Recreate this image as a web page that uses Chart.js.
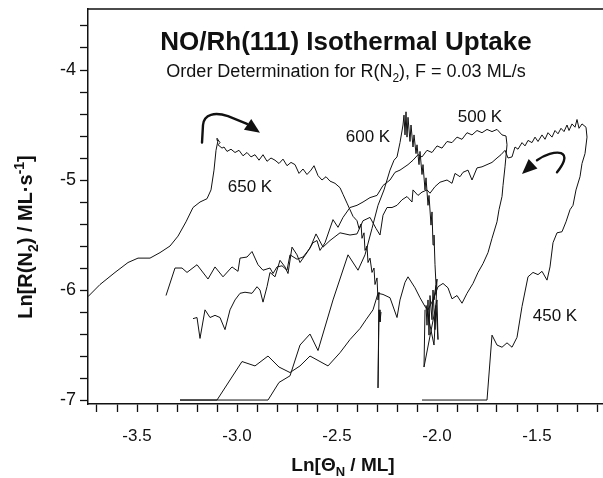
<!DOCTYPE html>
<html><head><meta charset="utf-8">
<script src="https://cdn.jsdelivr.net/npm/chart.js@4/dist/chart.umd.min.js"></script>
<style>html,body{margin:0;padding:0;overflow:hidden;background:#fff}#wrap{width:620px;height:478px}</style>
</head><body><div id="wrap"><canvas id="c" width="620" height="478"></canvas></div>
<script>
// ---- data: [ln(theta_N), ln(R(N2))] pairs ----
const k650 = [[-3.745,-6.06],[-3.685,-5.95],[-3.61,-5.84],[-3.545,-5.75],[-3.495,-5.71],[-3.435,-5.71],[-3.385,-5.66],[-3.335,-5.60],[-3.295,-5.51],[-3.255,-5.38],[-3.22,-5.25],[-3.185,-5.20],[-3.15,-5.17],[-3.13,-5.09],[-3.115,-4.91],[-3.105,-4.73],[-3.095,-4.64],[-3.10,-4.62],[-3.085,-4.66],[-3.095,-4.68],[-3.075,-4.71],[-3.065,-4.70],[-3.05,-4.74],[-3.03,-4.72],[-3.01,-4.75],[-2.99,-4.73],[-2.97,-4.78],[-2.95,-4.75],[-2.93,-4.79],[-2.91,-4.77],[-2.89,-4.82],[-2.87,-4.77],[-2.85,-4.83],[-2.83,-4.80],[-2.81,-4.82],[-2.79,-4.85],[-2.77,-4.81],[-2.75,-4.87],[-2.73,-4.84],[-2.71,-4.86],[-2.69,-4.94],[-2.67,-4.90],[-2.65,-4.95],[-2.63,-4.91],[-2.615,-4.87],[-2.595,-4.96],[-2.575,-5.00],[-2.555,-4.97],[-2.535,-5.01],[-2.51,-5.03],[-2.485,-5.07],[-2.47,-5.13],[-2.45,-5.21],[-2.435,-5.27],[-2.42,-5.33],[-2.40,-5.37],[-2.39,-5.44],[-2.38,-5.40],[-2.375,-5.53],[-2.365,-5.48],[-2.36,-5.64],[-2.35,-5.60],[-2.345,-5.75],[-2.335,-5.71],[-2.325,-5.84],[-2.315,-5.80],[-2.31,-5.95],[-2.30,-5.89],[-2.295,-6.09],[-2.29,-6.02],[-2.295,-6.89],[-2.29,-6.18],[-2.285,-6.29],[-2.28,-6.20]];
const k600 = [[-3.285,-7.0],[-2.845,-7.0],[-2.79,-6.84],[-2.735,-6.78],[-2.685,-6.50],[-2.635,-6.40],[-2.595,-6.55],[-2.52,-6.09],[-2.445,-5.68],[-2.395,-5.82],[-2.36,-5.68],[-2.325,-5.44],[-2.295,-5.23],[-2.265,-5.09],[-2.235,-4.91],[-2.215,-4.82],[-2.20,-4.79],[-2.185,-4.66],[-2.17,-4.50],[-2.165,-4.41],[-2.16,-4.59],[-2.155,-4.38],[-2.15,-4.61],[-2.145,-4.43],[-2.135,-4.65],[-2.13,-4.50],[-2.12,-4.70],[-2.115,-4.59],[-2.105,-4.76],[-2.10,-4.68],[-2.09,-4.86],[-2.085,-4.74],[-2.075,-4.95],[-2.07,-4.86],[-2.06,-5.09],[-2.055,-4.98],[-2.045,-5.23],[-2.04,-5.14],[-2.03,-5.41],[-2.025,-5.29],[-2.02,-5.59],[-2.015,-5.50],[-2.01,-5.77],[-2.005,-5.95],[-2.015,-6.09],[-2.00,-5.90],[-2.01,-6.36],[-2.02,-6.00],[-2.025,-6.27],[-2.035,-6.05],[-2.04,-6.41],[-2.045,-6.09],[-2.05,-6.32],[-2.055,-6.14],[-2.015,-6.50],[-2.005,-6.14],[-1.995,-6.45],[-2.00,-6.09],[-2.065,-6.70],[-2.06,-6.18]];
const k500 = [[-3.22,-6.26],[-3.20,-6.25],[-3.185,-6.44],[-3.16,-6.18],[-3.135,-6.25],[-3.11,-6.23],[-3.085,-6.25],[-3.06,-6.36],[-3.035,-6.18],[-3.01,-6.09],[-2.985,-6.03],[-2.96,-6.02],[-2.925,-6.03],[-2.90,-5.97],[-2.885,-6.00],[-2.87,-6.11],[-2.85,-5.97],[-2.835,-5.84],[-2.81,-5.88],[-2.785,-5.73],[-2.76,-5.79],[-2.745,-5.85],[-2.725,-5.61],[-2.70,-5.68],[-2.685,-5.75],[-2.65,-5.66],[-2.62,-5.57],[-2.60,-5.55],[-2.585,-5.64],[-2.56,-5.57],[-2.52,-5.36],[-2.495,-5.43],[-2.47,-5.34],[-2.435,-5.25],[-2.40,-5.23],[-2.37,-5.20],[-2.335,-5.16],[-2.30,-5.14],[-2.27,-5.05],[-2.235,-5.00],[-2.21,-4.93],[-2.185,-4.91],[-2.145,-4.86],[-2.12,-4.82],[-2.095,-4.77],[-2.075,-4.79],[-2.05,-4.73],[-2.025,-4.75],[-2.00,-4.69],[-1.975,-4.71],[-1.95,-4.65],[-1.925,-4.66],[-1.90,-4.61],[-1.875,-4.63],[-1.85,-4.57],[-1.825,-4.59],[-1.80,-4.55],[-1.775,-4.57],[-1.75,-4.54],[-1.725,-4.56],[-1.70,-4.54],[-1.675,-4.59],[-1.655,-4.60],[-1.65,-4.68],[-1.66,-4.88],[-1.67,-5.05],[-1.675,-5.15],[-1.69,-5.27],[-1.70,-5.38],[-1.725,-5.53],[-1.745,-5.66],[-1.77,-5.76],[-1.795,-5.84],[-1.82,-5.94],[-1.85,-6.03],[-1.875,-6.12],[-1.90,-6.05],[-1.925,-6.08],[-1.945,-5.98],[-1.97,-5.94],[-1.995,-5.97],[-2.02,-6.09],[-2.045,-6.18],[-2.06,-6.15],[-2.085,-6.07],[-2.11,-5.98],[-2.145,-5.88],[-2.16,-5.93],[-2.185,-6.09],[-2.20,-6.25],[-2.235,-6.07],[-2.27,-6.04],[-2.295,-6.03],[-2.32,-6.18],[-2.355,-6.27],[-2.385,-6.35],[-2.435,-6.45],[-2.485,-6.57],[-2.545,-6.69],[-2.595,-6.64],[-2.635,-6.60],[-2.685,-6.69],[-2.735,-6.75],[-2.79,-6.70],[-2.845,-6.60],[-2.91,-6.69],[-2.975,-6.65],[-3.10,-7.0],[-3.285,-7.0]];
const k450 = [[-2.075,-7.0],[-1.75,-7.0],[-1.725,-6.41],[-1.70,-6.50],[-1.675,-6.52],[-1.65,-6.48],[-1.625,-6.52],[-1.60,-6.43],[-1.575,-6.15],[-1.545,-5.88],[-1.52,-5.84],[-1.495,-5.86],[-1.475,-5.83],[-1.45,-5.91],[-1.435,-5.79],[-1.42,-5.57],[-1.40,-5.48],[-1.375,-5.47],[-1.355,-5.38],[-1.335,-5.27],[-1.32,-5.23],[-1.305,-5.09],[-1.285,-4.97],[-1.275,-4.85],[-1.26,-4.76],[-1.25,-4.61],[-1.255,-4.52],[-1.275,-4.49],[-1.29,-4.53],[-1.30,-4.45],[-1.31,-4.52],[-1.325,-4.49],[-1.34,-4.55],[-1.35,-4.50],[-1.365,-4.56],[-1.38,-4.53],[-1.395,-4.58],[-1.41,-4.55],[-1.425,-4.61],[-1.445,-4.57],[-1.46,-4.63],[-1.475,-4.59],[-1.495,-4.65],[-1.51,-4.61],[-1.525,-4.66],[-1.545,-4.64],[-1.56,-4.69],[-1.575,-4.66],[-1.595,-4.72],[-1.61,-4.70],[-1.625,-4.79],[-1.645,-4.80],[-1.66,-4.73],[-1.68,-4.77],[-1.70,-4.80],[-1.725,-4.84],[-1.75,-4.86],[-1.775,-4.88],[-1.80,-4.89],[-1.825,-5.00],[-1.845,-4.91],[-1.87,-4.93],[-1.885,-4.97],[-1.91,-4.94],[-1.925,-5.03],[-1.95,-5.00],[-1.985,-5.02],[-2.01,-5.06],[-2.035,-5.12],[-2.05,-5.09],[-2.075,-5.11],[-2.095,-5.14],[-2.12,-5.09],[-2.125,-5.20],[-2.15,-5.15],[-2.175,-5.18],[-2.20,-5.23],[-2.225,-5.25],[-2.25,-5.25],[-2.27,-5.32],[-2.285,-5.50],[-2.305,-5.44],[-2.335,-5.34],[-2.37,-5.37],[-2.40,-5.49],[-2.435,-5.50],[-2.485,-5.48],[-2.535,-5.55],[-2.57,-5.61],[-2.605,-5.49],[-2.635,-5.62],[-2.67,-5.70],[-2.70,-5.72],[-2.735,-5.68],[-2.75,-5.82],[-2.775,-5.78],[-2.80,-5.79],[-2.82,-5.85],[-2.835,-5.80],[-2.87,-5.82],[-2.895,-5.77],[-2.925,-5.65],[-2.95,-5.70],[-2.985,-5.71],[-2.995,-5.83],[-3.025,-5.79],[-3.07,-5.88],[-3.11,-5.79],[-3.145,-5.90],[-3.20,-5.77],[-3.25,-5.84],[-3.275,-5.80],[-3.31,-5.80],[-3.355,-6.05]];
const seriesNames = ['650 K','600 K','500 K','450 K'];
const seriesData = [k650, k600, k500, k450];
// label anchors (data units) for the temperature annotations
const labelPos = [[-2.935,-5.07],[-2.345,-4.61],[-1.785,-4.43],[-1.41,-6.24]];
const xTickLabels = [-3.5,-3.0,-2.5,-2.0,-1.5];
const yTickLabels = [-7,-6,-5,-4];
const xMinorTicks = [-3.7,-3.6,-3.5,-3.4,-3.3,-3.2,-3.1,-3.0,-2.9,-2.8,-2.7,-2.6,-2.5,-2.4,-2.3,-2.2,-2.1,-2.0,-1.9,-1.8,-1.7,-1.6,-1.5,-1.4,-1.3,-1.2];
const yMinorTicks = [-7.0,-6.8,-6.6,-6.4,-6.2,-6.0,-5.8,-5.6,-5.4,-5.2,-5.0,-4.8,-4.6,-4.4,-4.2,-4.0,-3.8,-3.6];

const FONT = '"Liberation Sans", Arial, Helvetica, sans-serif';
const INK = '#111';

function drawRich(ctx, parts, x, y, size, bold, align){
  const f = m => (bold?'bold ':'') + (m ? Math.round(size*0.68) : size) + 'px ' + FONT;
  let w = 0;
  for (const [t,m] of parts){ ctx.font = f(m); w += ctx.measureText(t).width; }
  let cx = align === 'center' ? x - w/2 : x;
  ctx.textAlign = 'left'; ctx.textBaseline = 'alphabetic';
  for (const [t,m] of parts){
    ctx.font = f(m);
    const dy = m === 'sub' ? size*0.28 : (m === 'sup' ? -size*0.40 : 0);
    ctx.fillText(t, cx, y + dy);
    cx += ctx.measureText(t).width;
  }
}

const decor = {
  id: 'decor',
  afterDraw(chart){
    const ctx = chart.ctx, a = chart.chartArea;
    const xs = chart.scales.x, ys = chart.scales.y;
    const P = (x,y) => [xs.getPixelForValue(x), ys.getPixelForValue(y)];
    ctx.save();
    ctx.fillStyle = INK; ctx.strokeStyle = INK;
    ctx.lineWidth = 1.5;
    ctx.beginPath(); ctx.moveTo(a.left, a.top); ctx.lineTo(a.right, a.top); ctx.lineTo(a.right, a.bottom); ctx.stroke();
    drawRich(ctx, [['NO/Rh(111) Isothermal Uptake','']], 346, 50, 26, true, 'center');
    drawRich(ctx, [['Order Determination for R(N',''],['2','sub'],['), F = 0.03 ML/s','']], 346, 77, 18, false, 'center');
    drawRich(ctx, [['Ln[\u0398',''],['N','sub'],[' / ML]','']], 343, 471, 19, true, 'center');
    ctx.save(); ctx.translate(32, 237); ctx.rotate(-Math.PI/2);
    drawRich(ctx, [['Ln[R(N',''],['2','sub'],[') / ML\u00b7s',''],['-1','sup'],[']','']], 0, 0, 20, true, 'center');
    ctx.restore();
    ctx.font = '17px ' + FONT; ctx.textAlign = 'center'; ctx.textBaseline = 'middle';
    seriesNames.forEach((n,i) => { const [px,py] = P(labelPos[i][0], labelPos[i][1]); ctx.fillText(n, px, py); });
    function head(from, tip){
      const dx = tip[0]-from[0], dy = tip[1]-from[1], L = Math.hypot(dx,dy);
      const ux = dx/L, uy = dy/L, bx = tip[0]-ux*15, by = tip[1]-uy*15;
      ctx.beginPath(); ctx.moveTo(tip[0],tip[1]);
      ctx.lineTo(bx - uy*6.5, by + ux*6.5); ctx.lineTo(bx + uy*6.5, by - ux*6.5); ctx.closePath(); ctx.fill();
    }
    ctx.lineWidth = 2.4; ctx.lineCap = 'round';
    let p0=P(-3.175,-4.66), p1=P(-3.17,-4.50), c1=P(-3.165,-4.40), c2=P(-3.11,-4.38), p2=P(-3.045,-4.42), p3=P(-2.95,-4.49), tip=P(-2.885,-4.57);
    ctx.beginPath(); ctx.moveTo(...p0); ctx.lineTo(...p1); ctx.bezierCurveTo(...c1, ...c2, ...p2); ctx.lineTo(...p3); ctx.stroke();
    head(p3, tip);
    let q0=P(-1.40,-4.93), qc1=P(-1.37,-4.86), qc2=P(-1.345,-4.78), q1=P(-1.38,-4.755), qc3=P(-1.41,-4.74), qc4=P(-1.46,-4.77), q2=P(-1.50,-4.82), qtip=P(-1.575,-4.945);
    ctx.beginPath(); ctx.moveTo(...q0); ctx.bezierCurveTo(...qc1, ...qc2, ...q1); ctx.bezierCurveTo(...qc3, ...qc4, ...q2); ctx.stroke();
    head(q2, qtip);
    ctx.restore();
  }
};

new Chart(document.getElementById('c'), {
  type: 'scatter',
  data: { datasets: seriesData.map((d,i) => ({
    label: seriesNames[i],
    data: d.map(p => ({x: p[0], y: p[1]})),
    showLine: true, borderColor: INK, borderWidth: 1, pointRadius: 0, tension: 0, fill: false
  })) },
  options: {
    responsive: false, animation: false, devicePixelRatio: 1,
    layout: { padding: { top: 9, right: 7, left: 0, bottom: 0 } },
    plugins: { legend: { display: false }, tooltip: { enabled: false }, title: { display: false } },
    scales: {
      x: {
        type: 'linear', min: -3.745, max: -1.12,
        afterFit(s){ s.height = 74; s.paddingLeft = 0; s.paddingRight = 0; },
        afterBuildTicks(s){ s.ticks = xMinorTicks.map(v => ({value: v})); },
        border: { display: true, color: INK, width: 1.5 },
        grid: { display: true, drawOnChartArea: false, drawTicks: true, tickLength: 8, color: INK, tickWidth: 1.3 },
        ticks: { autoSkip: false, maxRotation: 0, padding: 14, color: INK, font: { family: FONT, size: 17 },
          callback: v => { const t = xTickLabels.find(q => Math.abs(q - v) < 1e-6); return t === undefined ? '' : t.toFixed(1); } }
      },
      y: {
        type: 'linear', min: -7.036, max: -3.4455,
        afterFit(s){ s.width = 88; s.paddingTop = 0; s.paddingBottom = 0; },
        afterBuildTicks(s){ s.ticks = yMinorTicks.map(v => ({value: v})); },
        border: { display: true, color: INK, width: 1.5 },
        grid: { display: true, drawOnChartArea: false, drawTicks: true, tickLength: 8, color: INK, tickWidth: 1.3 },
        ticks: { autoSkip: false, padding: 4, color: INK, font: { family: FONT, size: 18 },
          callback: v => { const t = yTickLabels.find(q => Math.abs(q - v) < 1e-6); return t === undefined ? '' : String(t); } }
      }
    }
  },
  plugins: [decor]
});
</script></body></html>
